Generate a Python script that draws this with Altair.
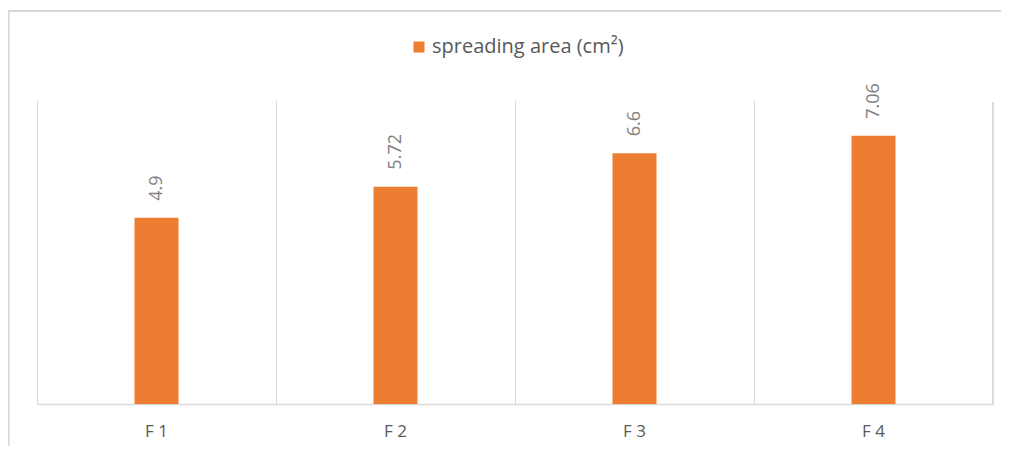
import altair as alt
import pandas as pd

categories = ["F 1", "F 2", "F 3", "F 4"]
values = [4.9, 5.72, 6.6, 7.06]
series_name = "spreading area (cm²)"

df = pd.DataFrame({"cat": categories, "val": values, "series": [series_name] * 4})

W, H = 956, 304
FONT = "Open Sans"
GRAY = "#595959"
ORANGE = "#ED7D31"

base = alt.Chart(df)

xenc = alt.X("cat:N", sort=categories, title=None,
             scale=alt.Scale(paddingInner=0, paddingOuter=0),
             axis=alt.Axis(labelAngle=0, labelFont=FONT, labelFontSize=17, labelColor=GRAY,
                           labelPadding=19, ticks=False, domainColor="#d9d9d9", domainWidth=1.5,
                           grid=True, gridColor="#d9d9d9", gridWidth=1, bandPosition=0))
yenc = alt.Y("val:Q", scale=alt.Scale(domain=[0, 8]), axis=None)

bars = base.mark_bar(size=44).encode(
    x=xenc,
    y=yenc,
    color=alt.Color("series:N", scale=alt.Scale(range=[ORANGE]),
                    legend=alt.Legend(title=None, orient="none", legendX=372, legendY=-63,
                                      symbolType="square", symbolSize=121, symbolStrokeWidth=0,
                                      labelFont=FONT, labelFontSize=20, labelColor=GRAY,
                                      labelOffset=3, labelLimit=0)),
)

labels = base.mark_text(angle=270, align="left", baseline="middle", dx=17,
                        font=FONT, fontSize=18, color="#7f7f7f").encode(
    x=xenc,
    y=yenc,
    text=alt.Text("val:Q"),
)

right_edge = alt.Chart(df).mark_rule(color="#d9d9d9", strokeWidth=1).encode(
    x=alt.value(W), y=alt.value(2), y2=alt.value(H))

border_left = alt.Chart(df).mark_rule(color="#d9d9d9", strokeWidth=1.5).encode(
    x=alt.value(-28.5), y=alt.value(-89), y2=alt.value(400))
border_top = alt.Chart(df).mark_rule(color="#d9d9d9", strokeWidth=1.5).encode(
    x=alt.value(-29), x2=alt.value(1000), y=alt.value(-89))

chart = alt.layer(border_left, border_top, right_edge, bars, labels).properties(
    width=W, height=H,
    autosize=alt.AutoSizeParams(type="none"),
    padding={"left": 29, "top": 92, "right": 8, "bottom": 42},
    view=alt.ViewBackground(stroke=None, strokeWidth=0),
).configure_view(strokeWidth=0, stroke=None).configure(background="white")

chart.save("out.html", embed_options={"renderer": "svg", "actions": False})
